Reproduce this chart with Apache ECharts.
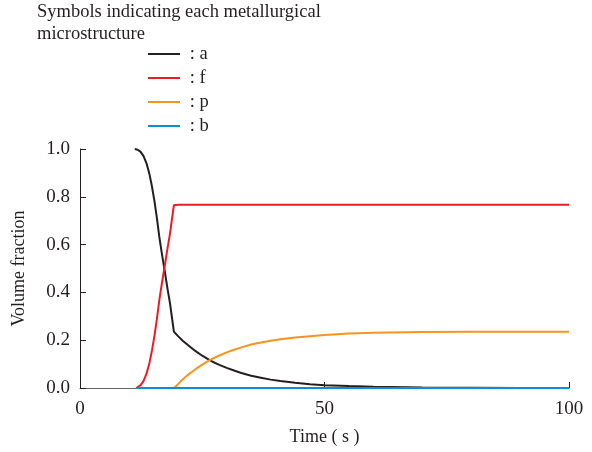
<!DOCTYPE html>
<html>
<head>
<meta charset="utf-8">
<script src="https://cdn.jsdelivr.net/npm/echarts@6/dist/echarts.min.js"></script>
<style>
  html, body { margin: 0; padding: 0; background: #fff; }
  #main { width: 592px; height: 452px; }
</style>
</head>
<body>
<div id="main"></div>
<script>
// values, [time (s), volume fraction]
const seriesNames = ['a', 'f', 'p', 'b']
const seriesColors = ['#231f20', '#ec1c24', '#f7941d', '#0a8fd6']
const dataA = [
  [11.2, 1.0], [11.8, 0.997], [12.4, 0.988], [13.0, 0.97], [13.6, 0.94],
  [14.2, 0.895], [14.7, 0.845], [15.2, 0.785], [15.7, 0.715], [16.2, 0.635],
  [16.8, 0.555], [17.4, 0.48], [17.9, 0.415], [18.4, 0.355], [18.8, 0.295],
  [19.2, 0.236], [20, 0.218], [21, 0.198], [22, 0.181], [23, 0.164],
  [24, 0.149], [25, 0.135], [26, 0.123], [27, 0.111], [28.5, 0.097],
  [30, 0.084], [31.5, 0.073], [33, 0.063], [35, 0.051], [37, 0.043],
  [39, 0.035], [41, 0.029], [44, 0.022], [47, 0.016], [50, 0.012],
  [55, 0.008], [60, 0.005], [70, 0.002], [80, 0.001], [90, 0], [100, 0]
]
const dataF = [
  [11.5, 0], [11.8, 0.003], [12.4, 0.012], [13.0, 0.03], [13.6, 0.06],
  [14.2, 0.105], [14.7, 0.155], [15.2, 0.215], [15.7, 0.285], [16.2, 0.365],
  [16.8, 0.445], [17.4, 0.52], [17.9, 0.585], [18.4, 0.645], [18.8, 0.705],
  [19.2, 0.765], [20, 0.767], [100, 0.767]
]
const dataP = [
  [19.2, 0], [20, 0.015], [21, 0.036], [22, 0.054], [23, 0.069],
  [24, 0.084], [25, 0.098], [26, 0.11], [27, 0.122], [28.5, 0.136],
  [30, 0.149], [31.5, 0.16], [33, 0.17], [35, 0.182], [37, 0.19],
  [39, 0.198], [41, 0.204], [44, 0.211], [47, 0.217], [50, 0.222],
  [55, 0.228], [60, 0.231], [70, 0.234], [80, 0.235], [90, 0.235], [100, 0.235]
]
const dataB = [[11.5, 0], [100, 0]]
const allData = [dataA, dataF, dataP, dataB]

const font = 'Liberation Serif'
const chart = echarts.init(document.getElementById('main'))
chart.setOption({
  animation: false,
  title: {
    text: 'Symbols indicating each metallurgical\nmicrostructure',
    left: 37,
    top: 1,
    padding: 0,
    textStyle: { fontFamily: font, fontSize: 18.5, fontWeight: 'normal', color: '#231f20', lineHeight: 22 }
  },
  legend: {
    orient: 'vertical',
    left: 148,
    top: 44,
    padding: 0,
    icon: 'rect',
    itemWidth: 32,
    itemHeight: 2,
    itemGap: 4,
    formatter: name => ' : ' + name,
    textStyle: { fontFamily: font, fontSize: 18.5, color: '#231f20', lineHeight: 20 },
    data: seriesNames
  },
  grid: { left: 80, right: 23, top: 149, bottom: 64 },
  xAxis: {
    type: 'value',
    min: 0,
    max: 100,
    interval: 50,
    name: 'Time ( s )',
    nameLocation: 'middle',
    nameGap: 40,
    nameTextStyle: { fontFamily: font, fontSize: 18, color: '#231f20' },
    axisLine: { lineStyle: { color: '#666', width: 1 } },
    axisTick: { inside: true, length: 6, lineStyle: { color: '#231f20' } },
    axisLabel: { fontFamily: font, fontSize: 19, color: '#231f20', margin: 12 },
    splitLine: { show: false }
  },
  yAxis: {
    type: 'value',
    min: 0,
    max: 1,
    interval: 0.2,
    name: 'Volume fraction',
    nameLocation: 'middle',
    nameGap: 52,
    nameTextStyle: { fontFamily: font, fontSize: 18, color: '#231f20' },
    axisLine: { show: true, lineStyle: { color: '#231f20', width: 1 } },
    axisTick: { show: true, inside: true, length: 6, lineStyle: { color: '#231f20' } },
    axisLabel: { fontFamily: font, fontSize: 19, color: '#231f20', margin: 10, formatter: v => v.toFixed(1) },
    splitLine: { show: false }
  },
  series: seriesNames.map((name, i) => ({
    name: name,
    type: 'line',
    data: allData[i],
    symbol: 'none',
    color: seriesColors[i],
    lineStyle: { width: 2, color: seriesColors[i] },
    z: 2 + i
  }))
})
</script>
</body>
</html>
